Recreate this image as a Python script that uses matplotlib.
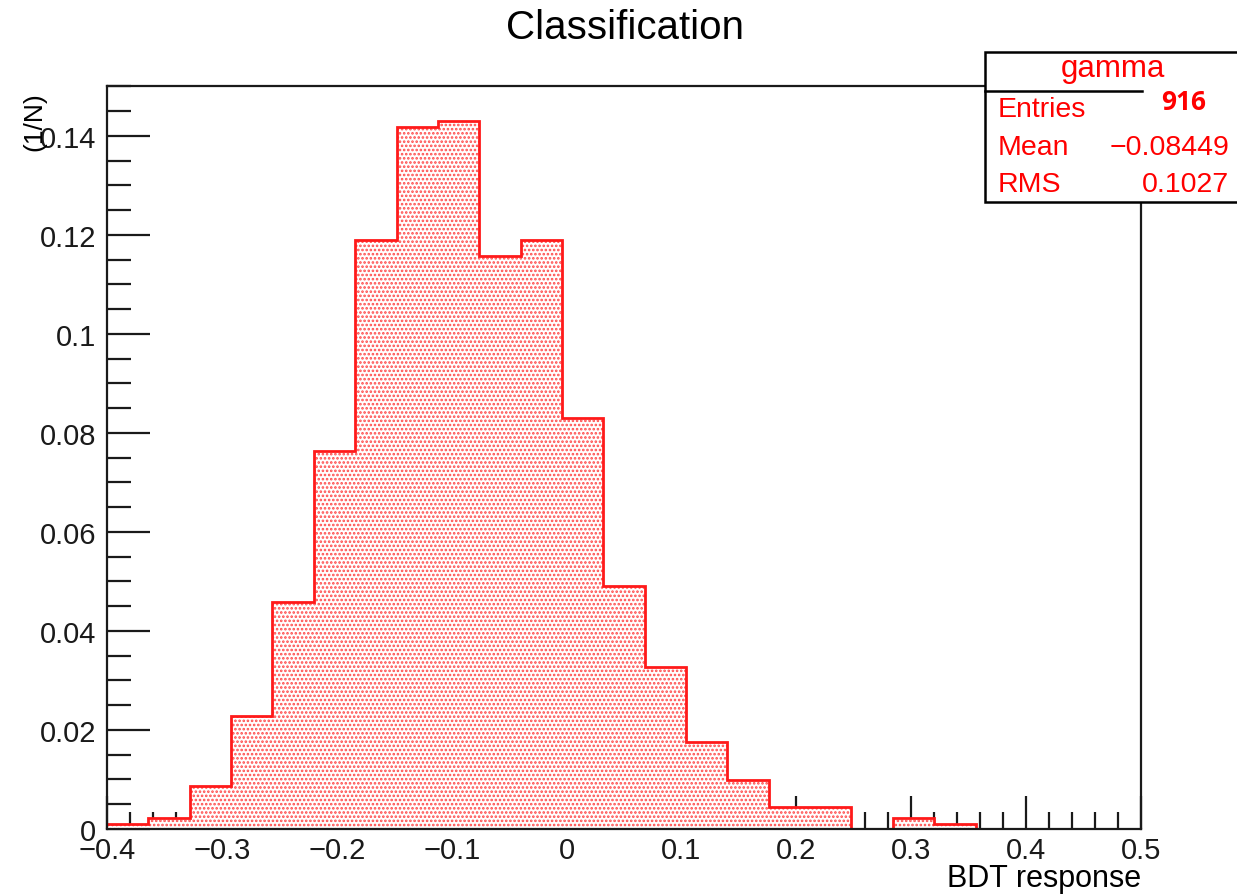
import numpy as np
import matplotlib
matplotlib.use("Agg")
import matplotlib.pyplot as plt
from matplotlib.patches import Rectangle
from matplotlib.lines import Line2D
from matplotlib.ticker import MultipleLocator, FuncFormatter

# ---------------- data ----------------
bin_edges = np.round(np.linspace(-0.4, 0.5, 26), 3)
fractions = [0.00109, 0.00218, 0.00873, 0.0229, 0.0459, 0.0764, 0.1190,
             0.1419, 0.1430, 0.1157, 0.1190, 0.0830, 0.0491, 0.0328,
             0.0175, 0.0098, 0.00437, 0.00437, 0.0, 0.00218, 0.00109,
             0.0, 0.0, 0.0, 0.0]
x_ticks = [-0.4, -0.3, -0.2, -0.1, 0, 0.1, 0.2, 0.3, 0.4, 0.5]
y_ticks = [0, 0.02, 0.04, 0.06, 0.08, 0.1, 0.12, 0.14]
title = "Classification"
x_label = "BDT response"
y_label = "(1/N)"
stat_name = "gamma"
stat_rows = [("Entries", "916"), ("Mean", "\u22120.08449"), ("RMS", "0.1027")]

# ---------------- figure ----------------
W, H = 1237, 895
plt.rcParams['font.family'] = ['Liberation Sans', 'DejaVu Sans']
plt.rcParams['hatch.linewidth'] = 1.25
fig = plt.figure(figsize=(W / 100, H / 100), dpi=100)

def fx(x):
    return x / W

def fy(y):
    return 1 - y / H

L, R, T, B = 107, 1141, 87, 830
ax = fig.add_axes([fx(L), fy(B), fx(R - L), (B - T) / H])
ax.set_xlim(-0.4, 0.5)
ax.set_ylim(0, 0.1501)

ax.stairs(fractions, bin_edges, fill=True, facecolor='white',
          edgecolor='#ff4a4a', hatch='....', linewidth=0, zorder=2)
ax.stairs(fractions, bin_edges, fill=False, color='#ff1a1a',
          linewidth=2.0, zorder=3, baseline=None)

for s in ax.spines.values():
    s.set_linewidth(1.6)
    s.set_color('#1a1a1a')
    s.set_zorder(4)

ax.set_xticks(x_ticks)
ax.set_yticks(y_ticks)
ax.xaxis.set_minor_locator(MultipleLocator(0.02))
ax.yaxis.set_minor_locator(MultipleLocator(0.005))

def fmt(v, pos):
    if abs(v) < 1e-9:
        return "0"
    s = ("%g" % round(v, 4))
    return s.replace("-", "\u2212")

ax.xaxis.set_major_formatter(FuncFormatter(fmt))
ax.yaxis.set_major_formatter(FuncFormatter(fmt))
ax.tick_params(axis='both', which='both', direction='in', top=False,
               right=False, colors='#1a1a1a', width=1.6, labelsize=21)
ax.tick_params(axis='x', which='major', length=24, pad=5)
ax.tick_params(axis='x', which='minor', length=12)
ax.tick_params(axis='y', which='major', length=31, pad=8)
ax.tick_params(axis='y', which='minor', length=17)

# title and axis labels
fig.text(fx(625), fy(28), title, ha='center', va='center', fontsize=29,
         color='black')
fig.text(fx(1141), fy(879), x_label, ha='right', va='center', fontsize=22,
         color='black')
fig.text(fx(34), fy(92), y_label, ha='center', va='top', rotation=90,
         fontsize=19, color='black')

# stats box
bx0, by0, bx1, by1 = 985, 53, 1250, 203
fig.patches.append(Rectangle((fx(bx0), fy(by1)), fx(bx1 - bx0),
                             (by1 - by0) / H, transform=fig.transFigure,
                             facecolor='white', edgecolor='black',
                             linewidth=1.8, zorder=10))
fig.lines.append(Line2D([fx(bx0), fx(1142)], [fy(92), fy(92)],
                        transform=fig.transFigure, color='black',
                        linewidth=1.8, zorder=11))
red = '#ff0000'
fig.text(fx(1113), fy(69), stat_name, ha='center', va='center', fontsize=22.5,
         color=red, zorder=12)
row_y = [110, 148, 185]
for (name, val), yy in zip(stat_rows, row_y):
    fig.text(fx(998), fy(yy), name, ha='left', va='center', fontsize=20.5,
             color=red, zorder=12)
    if name == "Entries":
        fig.text(fx(1184), fy(103), val, ha='center', va='center',
                 fontsize=19, fontweight='bold', color=red, zorder=12,
                 family=['Open Sans', 'DejaVu Sans'])
    else:
        fig.text(fx(1229), fy(yy), val, ha='right', va='center',
                 fontsize=20.5, color=red, zorder=12)

fig.savefig("out.png", dpi=100)
